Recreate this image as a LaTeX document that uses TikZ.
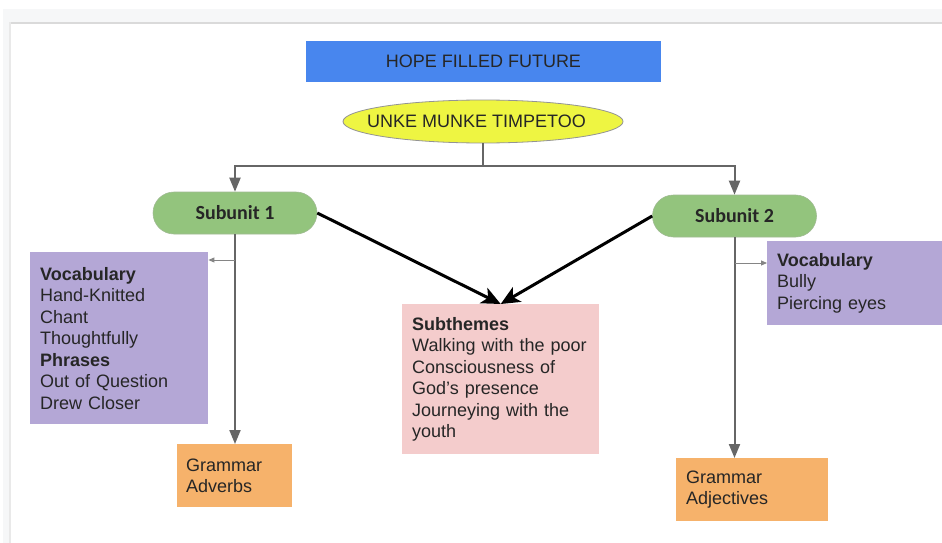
\documentclass[tikz,border=0pt]{standalone}
\usepackage{fontspec}
\setmainfont{Liberation Sans}
\newfontfamily\subfont{Carlito}
\usetikzlibrary{arrows.meta,shapes.geometric}
\definecolor{hblue}{HTML}{4886EE}
\definecolor{hyellow}{HTML}{EEF542}
\definecolor{hgreen}{HTML}{93C47D}
\definecolor{hpurple}{HTML}{B4A7D6}
\definecolor{hpink}{HTML}{F4CCCC}
\definecolor{horange}{HTML}{F6B26B}
\definecolor{htxt}{HTML}{262626}
\definecolor{hgray}{HTML}{666666}
\definecolor{frame}{HTML}{F6F7F8}
\definecolor{shadow}{HTML}{DADADA}
\begin{document}
\begin{tikzpicture}[x=1pt,y=-1pt,
  box/.style={rectangle, anchor=north west, inner xsep=10pt, inner ysep=0pt,
    align=left, text=htxt, font=\fontsize{18}{21.5}\selectfont},
  pill/.style={rectangle, rounded corners=21pt, minimum width=164pt,
    minimum height=42pt, inner sep=0pt, fill=hgreen, draw=hgreen!80!black!70,
    line width=0.6pt, text=htxt, font=\subfont\bfseries\fontsize{20}{24}\selectfont},
  conn/.style={draw=hgray, line width=2pt},
  connarrow/.style={conn, -{Triangle[length=14pt,width=11pt]}, hgray},
  bigarrow/.style={draw=black, line width=3pt, -{Stealth[length=19pt,width=17pt,inset=5pt]}},
  smallarrow/.style={draw=hgray!80, line width=1pt, -{Triangle[length=6pt,width=5pt]}}
]
% background and frame
\useasboundingbox (0,0) rectangle (942,543);
\fill[white] (0,0) rectangle (942,543);
\fill[frame] (3,9) rectangle (942,23);
\fill[frame] (3,9) rectangle (10,543);
\fill[shadow] (9,22.5) rectangle (942,24.5);
\fill[shadow!60] (9,22.5) rectangle (11,543);
\fill[white] (11,24.5) rectangle (942,543);

% title
\node[fill=hblue, minimum width=355pt, minimum height=41pt, inner sep=0pt,
  text=htxt, font=\fontsize{18}{21}\selectfont] (title) at (483.5,61.5) {HOPE FILLED FUTURE};
% story
\node[ellipse, fill=hyellow, draw=hgray!70, line width=0.8pt, minimum width=280pt,
  minimum height=43pt, inner sep=0pt, text=htxt, font=\fontsize{18}{21}\selectfont]
  (story) at (483,121.5) {\makebox[0pt]{\kern-13pt UNKE MUNKE TIMPETOO}};

% subunits
\node[pill] (s1) at (235,213) {Subunit 1};
\node[pill] (s2) at (734.5,216) {Subunit 2};

% boxes
\node[box, fill=hpurple, text width=158pt, minimum height=172pt] (lp) at (30,252)
  {\textbf{Vocabulary}\\Hand-Knitted\\Chant\\Thoughtfully\\\textbf{Phrases}\\Out of Question\\Drew Closer};
\node[box, fill=hpink, text width=177pt, minimum height=150pt] (sub) at (402,304)
  {\textbf{Subthemes}\\Walking with the poor\\Consciousness of\\God's presence\\Journeying with the\\youth};
\node[box, fill=hpurple, text width=155pt, minimum height=84pt] (rp) at (767,241)
  {\textbf{Vocabulary}\\Bully\\Piercing eyes};
\node[box, fill=horange, inner xsep=9pt, text width=97pt, minimum height=63pt] (gadv) at (177,444)
  {Grammar\\Adverbs};
\node[box, fill=horange, text width=132pt, minimum height=63pt] (gadj) at (676,458)
  {Grammar\\Adjectives};

% connectors
\coordinate (j) at (483,166);
\draw[conn] (story.south) -- (j);
\draw[connarrow] (j) -| (s1.north);
\draw[connarrow] (j) -| (s2.north);

\draw[bigarrow] (s1.east) -- (sub.north);
\draw[bigarrow] (s2.west) -- (sub.north);

\draw[connarrow] (s1.south) -- (s1.south |- gadv.north);
\draw[connarrow] (s2.south) -- (s2.south |- gadj.north);

\coordinate (a1) at (235,260);
\draw[smallarrow] (a1) -- (a1 -| lp.east);
\coordinate (a2) at (735,263);
\draw[smallarrow] (a2) -- (a2 -| rp.west);
\end{tikzpicture}
\end{document}
